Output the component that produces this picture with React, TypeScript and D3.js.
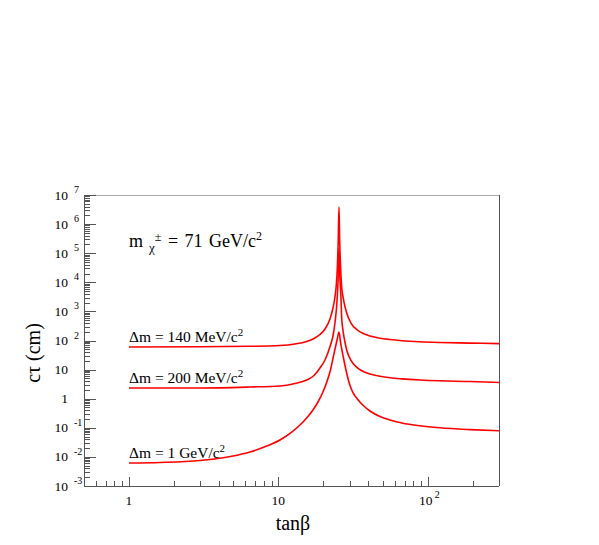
import React from 'react';
import * as d3 from 'd3';

// curves: tanβ vs cτ (cm)
const tanB140 = [1, 2.99, 6.46, 10.25, 12.92, 15.47, 17.32, 19.0, 20.52, 22.16, 23.21, 23.93, 24.49, 24.87, 25.18, 25.46, 25.73, 26.06, 26.54, 27.21, 27.5, 28.67, 30.63, 33.44, 35.74, 38.01, 41.05, 47.88, 55.86, 67.2, 88.7, 120.8, 191.8, 300];
const ct140 = [59.8, 61.2, 63.2, 67.3, 75.8, 92.4, 117, 161, 248, 548, 1310, 3130, 9460, 39400, 284000, 3.87e6, 284000, 39400, 6890, 2880, 2100, 881, 399, 239, 190, 164, 143, 120, 108, 98.4, 90.2, 85.3, 81.4, 78.2];

const tanB200 = [1, 2.99, 6.46, 10.25, 12.92, 15.47, 17.32, 19.0, 20.52, 22.16, 23.21, 23.93, 24.8, 25.18, 25.46, 25.75, 26.26, 26.54, 26.95, 27.5, 28.67, 30.63, 33.44, 35.74, 38.01, 41.05, 47.88, 55.86, 67.2, 88.7, 120.8, 191.8, 300];
const ct200 = [2.33, 2.33, 2.52, 2.73, 3.33, 4.39, 6.27, 11.4, 21.4, 61.2, 143, 399, 3130, 17800, 1.5e5, 22600, 2880, 593, 269, 132, 47.2, 20.7, 12.1, 9.5, 8.1, 7.06, 5.89, 5.22, 4.79, 4.39, 4.12, 3.9, 3.6];

const tanB1000 = [1, 1.61, 2.99, 4.97, 6.46, 8.36, 10.25, 12.53, 13.96, 15.47, 17.05, 18.42, 19.89, 21.16, 22.33, 23.32, 24.12, 24.8, 25.46, 26.13, 27.21, 28.36, 30.17, 31.59, 34.02, 37.03, 41.05, 47.88, 55.86, 67.2, 88.7, 120.8, 191.8, 300];
const ct1000 = [0.00616, 0.00643, 0.00751, 0.01074, 0.01472, 0.0237, 0.0381, 0.0776, 0.1247, 0.217, 0.409, 0.771, 1.7, 3.9, 9.68, 27.1, 59.8, 113, 196, 82, 27.1, 9.68, 2.84, 1.63, 0.94, 0.583, 0.378, 0.244, 0.185, 0.146, 0.117, 0.1, 0.0867, 0.0788];

const xTickValues = [1, 10, 100];
const xTickBases = ['1', '10', '10'];
const xTickExps = ['', '', '2'];

const yTickValues = [1e-3, 1e-2, 1e-1, 1, 10, 1e2, 1e3, 1e4, 1e5, 1e6, 1e7];
const yTickBases = ['10', '10', '10', '1', '10', '10', '10', '10', '10', '10', '10'];
const yTickExps = ['-3', '-2', '-1', '', '', '2', '3', '4', '5', '6', '7'];

const W = 599;
const H = 545;
const frame = { left: 84, right: 499, top: 195, bottom: 486 };
const font = '"Liberation Serif", "Times New Roman", serif';
const red = '#ff0000';
const axisCol = '#555';

const App = () => {
  const x = d3.scaleLog().domain([0.5, 300]).range([frame.left, frame.right]);
  const y = d3.scaleLog().domain([1e-3, 1e7]).range([frame.bottom, frame.top]);

  const line = d3.line<[number, number]>()
    .x(d => x(d[0]))
    .y(d => y(d[1]))
    .curve(d3.curveMonotoneX);

  const series = [
    d3.zip(tanB140, ct140) as [number, number][],
    d3.zip(tanB200, ct200) as [number, number][],
    d3.zip(tanB1000, ct1000) as [number, number][],
  ];

  // minor ticks
  const xMinor: number[] = [];
  for (let e = -1; e <= 2; e++) {
    for (let k = 2; k <= 9; k++) {
      const v = k * Math.pow(10, e);
      if (v > 0.5 && v < 300) xMinor.push(v);
    }
  }
  const yMinor: number[] = [];
  for (let e = -3; e < 7; e++) {
    for (let k = 2; k <= 9; k++) yMinor.push(k * Math.pow(10, e));
  }

  const px = (v: number) => Math.round(v) + 0.5;

  return (
    <svg width={W} height={H} style={{ position: 'absolute', left: 0, top: 0, background: '#fff' }}
      fontFamily={font}>
      {/* frame */}
      <line x1={frame.left} x2={frame.right} y1={frame.top + 0.5} y2={frame.top + 0.5} stroke="#aaa" />
      <line x1={frame.right + 0.5} x2={frame.right + 0.5} y1={frame.top} y2={frame.bottom} stroke={axisCol} />
      <line x1={frame.left} x2={frame.right} y1={frame.bottom + 0.5} y2={frame.bottom + 0.5} stroke={axisCol} />
      <line x1={frame.left + 0.5} x2={frame.left + 0.5} y1={frame.top} y2={frame.bottom} stroke={axisCol} />

      {/* x ticks */}
      {xMinor.map(v => (
        <line key={'xm' + v} x1={px(x(v))} x2={px(x(v))} y1={frame.bottom} y2={frame.bottom - 5} stroke={axisCol} />
      ))}
      {xTickValues.map(v => (
        <line key={'xM' + v} x1={px(x(v))} x2={px(x(v))} y1={frame.bottom} y2={frame.bottom - 9} stroke={axisCol} />
      ))}
      {xTickValues.map((v, i) => (
        <g key={'xl' + v} fontSize={13.5}>
          <text x={x(v) - (xTickExps[i] ? 2 : 0)} y={505} textAnchor="middle">{xTickBases[i]}</text>
          {xTickExps[i] && <text x={x(v) + 7} y={498} fontSize={10}>{xTickExps[i]}</text>}
        </g>
      ))}

      {/* y ticks */}
      {yMinor.map(v => (
        <line key={'ym' + v} x1={frame.left} x2={frame.left + 6} y1={px(y(v))} y2={px(y(v))} stroke={axisCol} />
      ))}
      {yTickValues.map(v => (
        <line key={'yM' + v} x1={frame.left} x2={frame.left + 12} y1={px(y(v))} y2={px(y(v))} stroke={axisCol} />
      ))}
      {yTickValues.map((v, i) => (
        <g key={'yl' + v} fontSize={13.5}>
          <text x={68} y={y(v) + 4.5} textAnchor="end">{yTickBases[i]}</text>
          {yTickExps[i] && <text x={74} y={y(v) - 2} fontSize={10}>{yTickExps[i]}</text>}
        </g>
      ))}

      {/* curves */}
      {series.map((s, i) => (
        <path key={'c' + i} d={line(s) || ''} fill="none" stroke={red} strokeWidth={1.6} />
      ))}

      {/* annotations */}
      <text x={129} y={247} fontSize={18} wordSpacing={2}>
        <tspan>m</tspan>
        <tspan dx={6} dy={5} fontSize={13}>χ</tspan>
        <tspan dy={-11} fontSize={12}>±</tspan>
        <tspan dy={6}> = 71 GeV/c</tspan>
        <tspan dy={-7} fontSize={12}>2</tspan>
      </text>
      <text x={129} y={342} fontSize={15.5}>
        <tspan>Δm = 140 MeV/c</tspan>
        <tspan dy={-6} fontSize={11}>2</tspan>
      </text>
      <text x={129} y={383} fontSize={15.5}>
        <tspan>Δm = 200 MeV/c</tspan>
        <tspan dy={-6} fontSize={11}>2</tspan>
      </text>
      <text x={129} y={458} fontSize={15.5}>
        <tspan>Δm = 1 GeV/c</tspan>
        <tspan dy={-6} fontSize={11}>2</tspan>
      </text>

      {/* axis titles */}
      <text x={293} y={530} fontSize={20} textAnchor="middle">tanβ</text>
      <text transform="translate(40,353) rotate(-90)" fontSize={20} textAnchor="middle">cτ (cm)</text>
    </svg>
  );
};

export default App;
